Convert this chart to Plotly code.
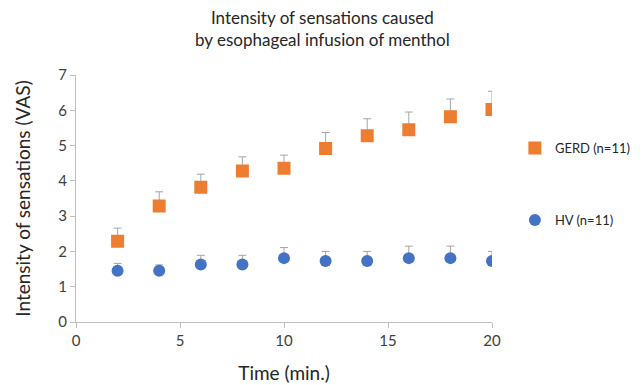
import plotly.graph_objects as go

time_min = [2, 4, 6, 8, 10, 12, 14, 16, 18, 20]
gerd_mean = [2.29, 3.29, 3.82, 4.28, 4.36, 4.92, 5.28, 5.45, 5.82, 6.02]
gerd_err = [0.37, 0.40, 0.37, 0.40, 0.37, 0.45, 0.48, 0.50, 0.50, 0.52]
hv_mean = [1.45, 1.45, 1.63, 1.63, 1.81, 1.73, 1.73, 1.81, 1.81, 1.73]
hv_err = [0.21, 0.17, 0.26, 0.26, 0.30, 0.27, 0.27, 0.34, 0.34, 0.27]

FONT = "Lato"
ORANGE = "#ED7D31"
BLUE = "#4472C4"
ERR = "#A6A6A6"

fig = go.Figure()
fig.add_trace(go.Scatter(
    x=time_min, y=gerd_mean, mode="markers", name="GERD (n=11)",
    marker=dict(symbol="square", size=11, color=ORANGE, line=dict(color=ORANGE, width=2)),
    error_y=dict(type="data", symmetric=False, array=gerd_err, arrayminus=[0]*len(gerd_err),
                 color=ERR, thickness=1, width=4),
    legend="legend", showlegend=True,
))
fig.add_trace(go.Scatter(
    x=time_min, y=hv_mean, mode="markers", name="HV (n=11)",
    marker=dict(symbol="circle", size=12, color=BLUE),
    error_y=dict(type="data", symmetric=False, array=hv_err, arrayminus=[0]*len(hv_err),
                 color=ERR, thickness=1, width=4),
    legend="legend2", showlegend=True,
))

axis_common = dict(showgrid=False, zeroline=False, showline=True, linecolor="#BFBFBF",
                   linewidth=1, ticks="outside", tickcolor="#BFBFBF", ticklen=5,
                   automargin=False,
                   tickfont=dict(family=FONT, size=15, color="#404040"))

fig.add_annotation(
    text="Intensity of sensations caused<br>by esophageal infusion of menthol",
    xref="paper", yref="paper", x=0.5 + (322 - 284) / 416, y=1.19,
    xanchor="center", yanchor="middle", showarrow=False, align="center",
    font=dict(family=FONT, size=17, color="#262626"),
)

fig.update_layout(
    width=634, height=377,
    paper_bgcolor="white", plot_bgcolor="white",
    showlegend=True,
    margin=dict(l=68, r=150, t=67, b=63, autoexpand=False),
    xaxis=dict(range=[0, 20], dtick=5, **axis_common,
               title=dict(text="Time (min.)", font=dict(family=FONT, size=19, color="#262626"), standoff=18)),
    yaxis=dict(range=[0, 7], dtick=1, **axis_common,
               title=dict(text="Intensity of sensations (VAS)", font=dict(family=FONT, size=19, color="#262626"), standoff=22)),
    legend=dict(x=1.055, y=0.704, xanchor="left", yanchor="middle",
                font=dict(family=FONT, size=13, color="#262626"), itemwidth=30,
                bgcolor="rgba(0,0,0,0)"),
    legend2=dict(x=1.055, y=0.413, xanchor="left", yanchor="middle",
                 font=dict(family=FONT, size=13, color="#262626"), itemwidth=30,
                 bgcolor="rgba(0,0,0,0)"),
)

fig.write_html("out.html")
